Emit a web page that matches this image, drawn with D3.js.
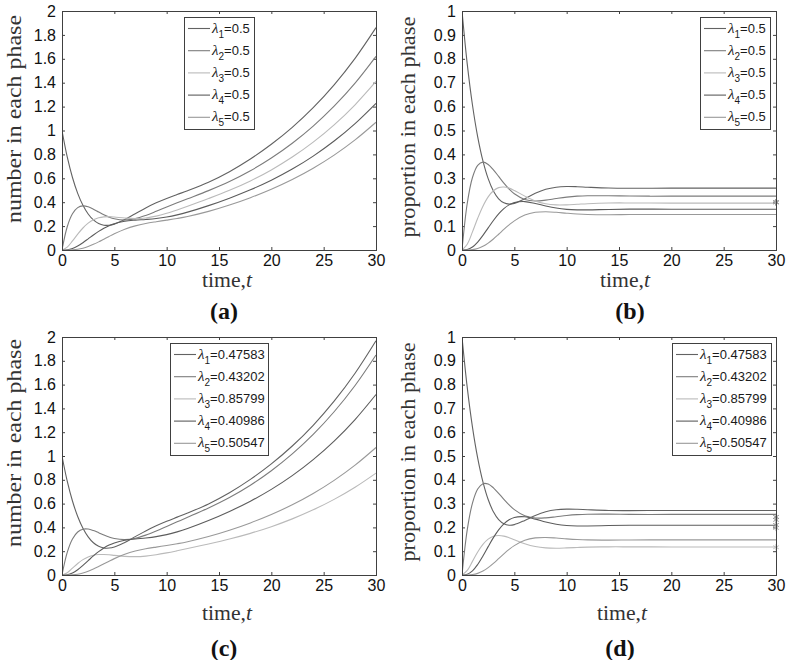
<!DOCTYPE html>
<html><head><meta charset="utf-8">
<script src="https://cdn.jsdelivr.net/npm/d3@7"></script>
<style>body{margin:0;background:#fff} svg{display:block}</style>
</head><body>
<svg id="chart" width="788" height="660"></svg>
<script>
// ---- data ----
const timePoints = [0,0.5,1,1.5,2,2.5,3,3.5,4,4.5,5,6,7,8,9,10,11,12,14,16,18,20,22,24,26,28,30];

// (a) number in each phase, all rates 0.5
const numberEqual = [
  [1,0.7788,0.6068,0.4742,0.3740,0.3011,0.2514,0.2213,0.2077,0.2071,0.2166,0.2546,0.3037,0.3522,0.3949,0.4315,0.4642,0.4961,0.5672,0.6554,0.7614,0.8847,1.0266,1.1912,1.3821,1.6037,1.8609],
  [0,0.1947,0.3033,0.3545,0.3689,0.3612,0.3418,0.3180,0.2947,0.2751,0.2611,0.2511,0.2628,0.2894,0.3234,0.3595,0.3949,0.4289,0.4968,0.5728,0.6631,0.7697,0.8936,1.0370,1.2032,1.3961,1.6200],
  [0,0.0243,0.0758,0.1329,0.1841,0.2244,0.2525,0.2696,0.2775,0.2790,0.2764,0.2675,0.2629,0.2682,0.2836,0.3070,0.3352,0.3660,0.4306,0.4997,0.5783,0.6703,0.7778,0.9026,1.0475,1.2154,1.4102],
  [0,0.0020,0.0126,0.0332,0.0613,0.0934,0.1258,0.1560,0.1822,0.2035,0.2200,0.2403,0.2497,0.2557,0.2636,0.2763,0.2942,0.3169,0.3715,0.4339,0.5038,0.5840,0.6772,0.7859,0.9119,1.0581,1.2277],
  [0,0.0001,0.0016,0.0062,0.0153,0.0291,0.0471,0.0680,0.0906,0.1134,0.1353,0.1734,0.2020,0.2221,0.2368,0.2499,0.2639,0.2805,0.3231,0.3763,0.4380,0.5085,0.5898,0.6842,0.7938,0.9211,1.0688]
];
// (b) proportion in each phase, all rates 0.5
const proportionEqual = [
  [1,0.7788,0.6067,0.4737,0.3727,0.2984,0.2468,0.2142,0.1973,0.1921,0.1952,0.2145,0.2371,0.2538,0.2628,0.2657,0.2649,0.2627,0.2591,0.2582,0.2586,0.2589,0.2589,0.2589,0.2589,0.2589,0.2589],
  [0,0.1947,0.3033,0.3541,0.3676,0.3579,0.3356,0.3079,0.2800,0.2552,0.2353,0.2116,0.2051,0.2086,0.2153,0.2213,0.2253,0.2271,0.2269,0.2257,0.2252,0.2254,0.2254,0.2254,0.2254,0.2254,0.2254],
  [0,0.0243,0.0758,0.1328,0.1834,0.2224,0.2479,0.2610,0.2636,0.2588,0.2491,0.2254,0.2052,0.1933,0.1888,0.1890,0.1913,0.1938,0.1967,0.1969,0.1964,0.1962,0.1962,0.1962,0.1962,0.1962,0.1962],
  [0,0.0020,0.0126,0.0332,0.0611,0.0925,0.1235,0.1510,0.1731,0.1888,0.1983,0.2025,0.1949,0.1843,0.1755,0.1701,0.1679,0.1678,0.1697,0.1710,0.1711,0.1708,0.1708,0.1708,0.1708,0.1708,0.1708],
  [0,0.0001,0.0016,0.0062,0.0153,0.0289,0.0462,0.0658,0.0861,0.1052,0.1220,0.1461,0.1577,0.1600,0.1577,0.1539,0.1506,0.1486,0.1476,0.1483,0.1487,0.1487,0.1487,0.1487,0.1487,0.1487,0.1487]
];
// (c) number in each phase, fitted rates
const numberFitted = [
  [1,0.7883,0.6217,0.4919,0.3929,0.3205,0.2709,0.2408,0.2271,0.2265,0.2359,0.2737,0.3224,0.3707,0.4139,0.4517,0.4864,0.5209,0.5976,0.6914,0.8033,0.9335,1.0838,1.2582,1.4606,1.6956,1.9684],
  [0,0.1896,0.3022,0.3616,0.3851,0.3859,0.3736,0.3553,0.3361,0.3191,0.3065,0.2973,0.3087,0.3351,0.3699,0.4081,0.4467,0.4850,0.5635,0.6514,0.7549,0.8765,1.0179,1.1817,1.3718,1.5926,1.8488],
  [0,0.0192,0.0573,0.0967,0.1291,0.1520,0.1657,0.1719,0.1725,0.1697,0.1653,0.1569,0.1542,0.1590,0.1703,0.1858,0.2035,0.2222,0.2607,0.3023,0.3500,0.4060,0.4716,0.5474,0.6355,0.7377,0.8564],
  [0,0.0028,0.0171,0.0442,0.0803,0.1204,0.1601,0.1961,0.2267,0.2512,0.2696,0.2920,0.3028,0.3109,0.3222,0.3394,0.3626,0.3909,0.4579,0.5342,0.6204,0.7196,0.8351,0.9695,1.1255,1.3066,1.5168],
  [0,0.0001,0.0018,0.0068,0.0166,0.0312,0.0498,0.0712,0.0938,0.1163,0.1376,0.1741,0.2010,0.2200,0.2346,0.2480,0.2627,0.2799,0.3232,0.3763,0.4379,0.5085,0.5901,0.6850,0.7952,0.9232,1.0717]
];
// (d) proportion in each phase, fitted rates
const proportionFitted = [
  [1,0.7883,0.6216,0.4913,0.3914,0.3173,0.2655,0.2326,0.2150,0.2092,0.2116,0.2293,0.2501,0.2656,0.2739,0.2766,0.2761,0.2743,0.2713,0.2705,0.2708,0.2711,0.2711,0.2711,0.2711,0.2711,0.2711],
  [0,0.1896,0.3022,0.3612,0.3836,0.3821,0.3662,0.3432,0.3182,0.2947,0.2749,0.2490,0.2395,0.2401,0.2448,0.2499,0.2535,0.2554,0.2558,0.2549,0.2545,0.2546,0.2546,0.2546,0.2546,0.2546,0.2546],
  [0,0.0192,0.0573,0.0966,0.1285,0.1505,0.1625,0.1660,0.1633,0.1567,0.1483,0.1314,0.1196,0.1139,0.1127,0.1138,0.1155,0.1170,0.1183,0.1183,0.1180,0.1179,0.1179,0.1179,0.1179,0.1179,0.1179],
  [0,0.0028,0.0171,0.0442,0.0800,0.1192,0.1569,0.1894,0.2147,0.2320,0.2418,0.2445,0.2349,0.2227,0.2133,0.2078,0.2058,0.2059,0.2079,0.2090,0.2091,0.2089,0.2089,0.2089,0.2089,0.2089,0.2089],
  [0,0.0001,0.0018,0.0068,0.0166,0.0309,0.0488,0.0687,0.0888,0.1074,0.1234,0.1458,0.1559,0.1576,0.1553,0.1519,0.1491,0.1474,0.1467,0.1473,0.1476,0.1476,0.1476,0.1476,0.1476,0.1476,0.1476]
];

const lambdaEqual = ["0.5","0.5","0.5","0.5","0.5"];
const lambdaFitted = ["0.47583","0.43202","0.85799","0.40986","0.50547"];
const markerEqual = [0.2,0.2,0.2,0.2,0.2];
const markerFitted = [0.2102,0.2315,0.1166,0.2440,0.1978];
const xTicks = [0,5,10,15,20,25,30];
const numberTicks = [0,0.2,0.4,0.6,0.8,1,1.2,1.4,1.6,1.8,2];
const proportionTicks = [0,0.1,0.2,0.3,0.4,0.5,0.6,0.7,0.8,0.9,1];
const seriesColors = ["#626262","#7c7c7c","#bababa","#5c5c5c","#999999"];
const markerColors = ["#8a8a8a","#9a9a9a","#bcbcbc","#8a8a8a","#a8a8a8"];

// ---- layout ----
const panels = [
  {x0:62, y0:11, x1:376, y1:250, yMax:2, ticks:numberTicks, ylab:"number in each phase", ylabLen:208, ylabC:119, tag:"(a)",
   series:numberEqual, lambdas:lambdaEqual, lg:{x:184,y:17,w:70,h:112}, markers:null,
   xlabX:227, xlabY:287, tagX:224, tagY:319, ylabX:21},
  {x0:462, y0:11, x1:776, y1:250, yMax:1, ticks:proportionTicks, ylab:"proportion in each phase", ylabLen:221, ylabC:127, tag:"(b)",
   series:proportionEqual, lambdas:lambdaEqual, lg:{x:700,y:17,w:70,h:112}, markers:markerEqual,
   xlabX:625, xlabY:287, tagX:630, tagY:319, ylabX:415},
  {x0:62, y0:337, x1:376, y1:575, yMax:2, ticks:numberTicks, ylab:"number in each phase", ylabLen:208, ylabC:443, tag:"(c)",
   series:numberFitted, lambdas:lambdaFitted, lg:{x:170,y:343,w:98,h:112}, markers:null,
   xlabX:227, xlabY:620, tagX:224, tagY:656, ylabX:21},
  {x0:462, y0:337, x1:776, y1:575, yMax:1, ticks:proportionTicks, ylab:"proportion in each phase", ylabLen:219, ylabC:452, tag:"(d)",
   series:proportionFitted, lambdas:lambdaFitted, lg:{x:672,y:343,w:99,h:112}, markers:markerFitted,
   xlabX:622, xlabY:620, tagX:620, tagY:656, ylabX:415}
];

const svg = d3.select("#chart");
const fmt = d => String(+d.toFixed(1));
const axisColor = "#404040";
const serif = "'Liberation Serif', 'Times New Roman', serif";
const sans = "'Liberation Sans', Arial, sans-serif";

panels.forEach((p, pi) => {
  const x = d3.scaleLinear().domain([0,30]).range([p.x0, p.x1]);
  const y = d3.scaleLinear().domain([0,p.yMax]).range([p.y1, p.y0]);
  const g = svg.append("g");

  const clipId = "clip" + pi;
  g.append("clipPath").attr("id", clipId).append("rect")
    .attr("x", p.x0).attr("y", p.y0 - 1).attr("width", p.x1 - p.x0 + 1).attr("height", p.y1 - p.y0 + 2);

  const styleAxis = sel => {
    sel.select(".domain").remove();
    sel.selectAll(".tick line").attr("stroke", axisColor);
    sel.selectAll(".tick text").attr("fill", "#111")
      .style("font-family", sans).style("font-size", "16px");
  };
  g.append("g").attr("transform", `translate(0,${p.y1})`)
    .call(d3.axisBottom(x).tickValues(xTicks).tickSizeInner(-3).tickSizeOuter(0).tickPadding(5).tickFormat(fmt))
    .call(styleAxis);
  g.append("g").attr("transform", `translate(0,${p.y0})`)
    .call(d3.axisTop(x).tickValues(xTicks).tickSizeInner(-3).tickSizeOuter(0).tickFormat(""))
    .call(styleAxis);
  g.append("g").attr("transform", `translate(${p.x0},0)`)
    .call(d3.axisLeft(y).tickValues(p.ticks).tickSizeInner(-3).tickSizeOuter(0).tickPadding(6).tickFormat(fmt))
    .call(styleAxis);
  g.append("g").attr("transform", `translate(${p.x1},0)`)
    .call(d3.axisRight(y).tickValues(p.ticks).tickSizeInner(-3).tickSizeOuter(0).tickFormat(""))
    .call(styleAxis);

  const line = d3.line().x((d,i) => x(timePoints[i])).y(d => y(d)).curve(d3.curveCatmullRom.alpha(0.5));
  const lg = g.append("g").attr("clip-path", `url(#${clipId})`);
  p.series.forEach((s, k) => {
    lg.append("path").attr("d", line(s)).attr("fill", "none")
      .attr("stroke", seriesColors[k]).attr("stroke-width", 1.1);
  });

  if (p.markers) {
    const sym = d3.symbol().type(d3.symbolAsterisk || d3.symbolCross).size(28);
    p.markers.forEach((m, k) => {
      g.append("path").attr("d", sym()).attr("transform", `translate(${x(30)},${y(m)})`)
        .attr("fill", "none").attr("stroke", markerColors[k]).attr("stroke-width", 1);
    });
  }

  g.append("rect").attr("x", p.x0).attr("y", p.y0).attr("width", p.x1 - p.x0).attr("height", p.y1 - p.y0)
    .attr("fill", "none").attr("stroke", axisColor).attr("stroke-width", 1).attr("shape-rendering","crispEdges");

  const L = p.lg;
  g.append("rect").attr("x", L.x).attr("y", L.y).attr("width", L.w).attr("height", L.h)
    .attr("fill", "#fff").attr("stroke", axisColor).attr("stroke-width", 1).attr("shape-rendering","crispEdges");
  p.lambdas.forEach((lam, k) => {
    const ry = L.y + 11.5 + k * 22.2;
    g.append("line").attr("x1", L.x + 4).attr("x2", L.x + 26).attr("y1", ry).attr("y2", ry)
      .attr("stroke", seriesColors[k]).attr("stroke-width", 1.1);
    const t = g.append("text").attr("x", L.x + 28).attr("y", ry + 4).attr("fill", "#1a1a1a");
    t.append("tspan").text("λ").style("font-family", serif).style("font-style", "italic").style("font-size", "15px");
    t.append("tspan").text(String(k + 1)).attr("dy", 5).style("font-family", sans).style("font-size", "10px");
    t.append("tspan").text("=" + lam).attr("dy", -5).style("font-family", sans).style("font-size", "13px");
  });

  const xl = g.append("text").attr("x", p.xlabX).attr("y", p.xlabY).attr("text-anchor", "middle")
    .attr("textLength", 50).attr("lengthAdjust", "spacingAndGlyphs")
    .style("font-family", serif).style("font-size", "20px").attr("fill", "#333");
  xl.append("tspan").text("time,");
  xl.append("tspan").text("t").style("font-style", "italic");
  g.append("text").attr("transform", `translate(${p.ylabX},${p.ylabC}) rotate(-90)`).attr("text-anchor", "middle")
    .attr("textLength", p.ylabLen).attr("lengthAdjust", "spacingAndGlyphs")
    .style("font-family", serif).style("font-size", "20px").attr("fill", "#333")
    .text(p.ylab);
  g.append("text").attr("x", p.tagX).attr("y", p.tagY).attr("text-anchor", "middle")
    .style("font-family", serif).style("font-size", "24px").style("font-weight", "bold").attr("fill", "#111")
    .text(p.tag);
});
</script>
</body></html>
